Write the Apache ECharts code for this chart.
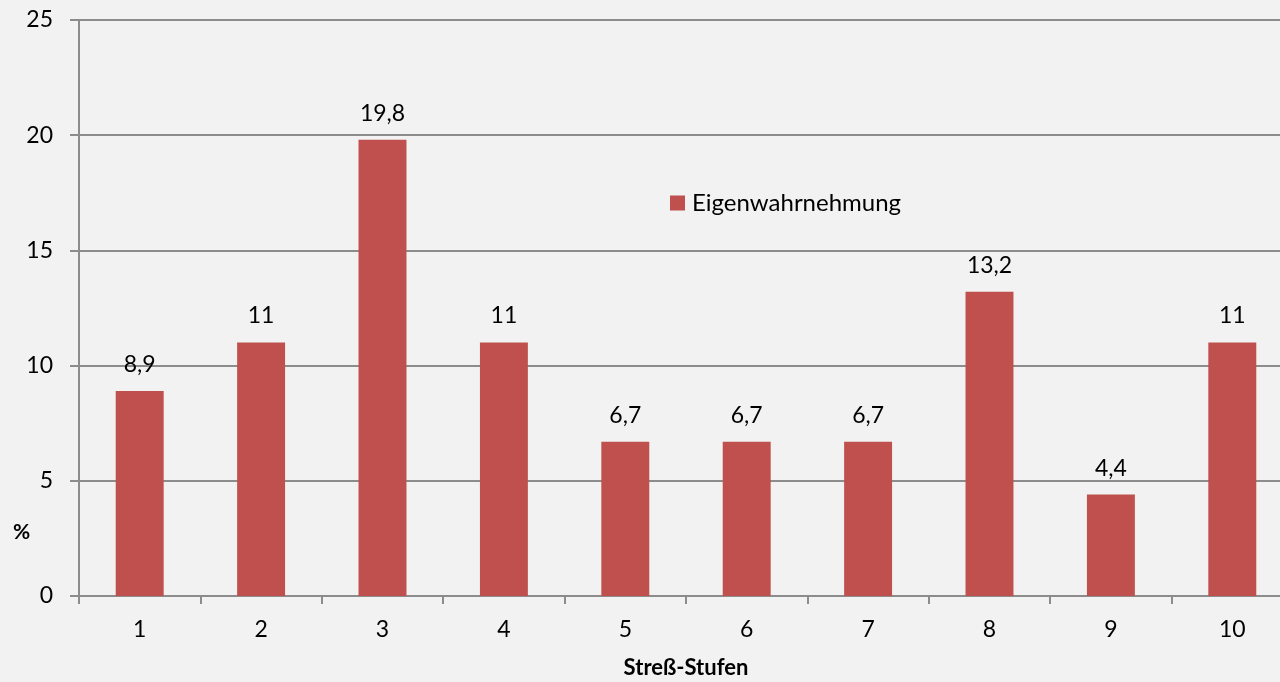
<!DOCTYPE html>
<html>
<head>
<meta charset="utf-8">
<script src="https://cdn.jsdelivr.net/npm/echarts@6/dist/echarts.min.js"></script>
<style>
  html, body { margin: 0; padding: 0; background: #f2f2f2; }
  #chart { width: 1280px; height: 682px; }
</style>
</head>
<body>
<div id="chart"></div>
<script>
// Stress levels and the share of self-assessments (%) per level
const categories = ['1', '2', '3', '4', '5', '6', '7', '8', '9', '10'];
const selfPerception = [8.9, 11, 19.8, 11, 6.7, 6.7, 6.7, 13.2, 4.4, 11];
const seriesName = 'Eigenwahrnehmung';

const fontFamily = 'Lato, "Open Sans", sans-serif';
const chart = echarts.init(document.getElementById('chart'));

chart.setOption({
  backgroundColor: '#f2f2f2',
  animation: false,
  textStyle: { fontFamily: fontFamily },
  grid: { left: 79, top: 20, right: -13, bottom: 86, containLabel: false, outerBoundsMode: 'none' },
  legend: {
    data: [seriesName],
    icon: 'rect',
    left: 670,
    top: 191,
    padding: 0,
    itemWidth: 15,
    itemHeight: 15,
    itemGap: 6,
    textStyle: { fontSize: 24, color: '#000', fontFamily: fontFamily, padding: [0, 0, 0, 2] }
  },
  graphic: [{
    type: 'text',
    left: 13,
    top: 522,
    style: { text: '%', fontSize: 21, fontWeight: 'bold', fill: '#000', fontFamily: fontFamily }
  }],
  xAxis: {
    type: 'category',
    data: categories,
    name: 'Streß-Stufen',
    nameLocation: 'middle',
    nameGap: 61,
    nameTextStyle: { fontSize: 22, fontWeight: 'bold', color: '#000', fontFamily: fontFamily },
    axisLine: { lineStyle: { color: '#8c8c8c', width: 2 } },
    axisTick: { show: true, length: 8, lineStyle: { color: '#8c8c8c', width: 2 } },
    axisLabel: { fontSize: 23, color: '#000', margin: 22, fontFamily: fontFamily }
  },
  yAxis: {
    type: 'value',
    min: 0,
    max: 25,
    interval: 5,
    axisLine: { show: true, lineStyle: { color: '#8c8c8c', width: 2 } },
    axisTick: { show: true, length: 9, lineStyle: { color: '#8c8c8c', width: 2 } },
    splitLine: { lineStyle: { color: '#8c8c8c', width: 2 } },
    axisLabel: { fontSize: 23, color: '#000', margin: 26, fontFamily: fontFamily }
  },
  series: [{
    name: seriesName,
    type: 'bar',
    data: selfPerception,
    barWidth: '39.5%',
    itemStyle: { color: '#c0504d' },
    label: {
      show: true,
      position: 'top',
      distance: 15,
      fontSize: 23,
      color: '#000',
      fontFamily: fontFamily,
      formatter: function (p) { return String(p.value).replace('.', ','); }
    }
  }]
});
</script>
</body>
</html>
